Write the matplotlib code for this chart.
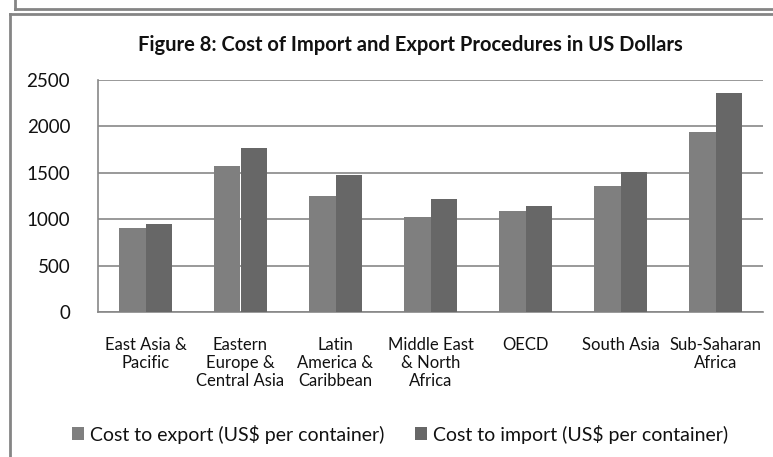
import numpy as np
import matplotlib.pyplot as plt
from matplotlib.lines import Line2D

regions = ["East Asia &\nPacific", "Eastern\nEurope &\nCentral Asia", "Latin\nAmerica &\nCaribbean",
           "Middle East\n& North\nAfrica", "OECD", "South Asia", "Sub-Saharan\nAfrica"]
cost_export = [910, 1575, 1245, 1025, 1090, 1360, 1945]
cost_import = [943, 1770, 1478, 1220, 1145, 1510, 2362]
yticks = [0, 500, 1000, 1500, 2000, 2500]

export_color = "#7f7f7f"
import_color = "#676767"
line_gray = "#878787"
text_color = "#111111"

fig = plt.figure(figsize=(7.73, 4.57), dpi=100)
ax = fig.add_axes([98 / 773, 1 - 312 / 457, 665 / 773, 232 / 457])

x = np.arange(len(regions))
w = 0.28
b1 = ax.bar(x - w / 2, cost_export, w, color=export_color, zorder=3, label="Cost to export (US$ per container)")
b2 = ax.bar(x + w / 2, cost_import, w, color=import_color, zorder=3, label="Cost to import (US$ per container)")

ax.set_xlim(-0.5, len(regions) - 0.5)
ax.set_ylim(0, 2500)
ax.set_yticks(yticks)
ax.set_yticklabels([str(v) for v in yticks], fontfamily="Lato", fontsize=13.5, color=text_color)
ax.set_xticks(x)
ax.set_xticklabels(regions, fontfamily="Lato", fontsize=12, color=text_color, linespacing=1.15, va="top")
ax.tick_params(axis="both", length=0)
ax.tick_params(axis="x", pad=18)
ax.tick_params(axis="y", pad=20)
ax.yaxis.grid(True, color=line_gray, linewidth=1.2, zorder=0)
for side in ["top", "right"]:
    ax.spines[side].set_visible(False)
for side in ["left", "bottom"]:
    ax.spines[side].set_color(line_gray)
    ax.spines[side].set_linewidth(1.2)

fig.text(410 / 773, 1 - 45 / 457, "Figure 8: Cost of Import and Export Procedures in US Dollars",
         ha="center", va="center", fontfamily="Lato", fontweight="bold", fontsize=14.5, color=text_color)

fig.legend(handles=[b1, b2], loc="center", bbox_to_anchor=(400 / 773, 1 - 434 / 457), ncol=2, frameon=False,
           prop={"family": "Lato", "size": 14}, handlelength=0.6, handleheight=0.6,
           handletextpad=0.3, columnspacing=1.6, labelcolor=text_color)

# frame lines of the surrounding boxes
frame_color = "#858585"
fig.add_artist(Line2D([15 / 773, 1], [1 - 9 / 457, 1 - 9 / 457], color=frame_color, lw=2))
fig.add_artist(Line2D([15 / 773, 15 / 773], [1, 1 - 9 / 457], color=frame_color, lw=2))
fig.add_artist(Line2D([10 / 773, 1], [1 - 14 / 457, 1 - 14 / 457], color=frame_color, lw=2))
fig.add_artist(Line2D([10 / 773, 10 / 773], [1 - 14 / 457, 0], color=frame_color, lw=2))

fig.savefig("out.png", dpi=100)
